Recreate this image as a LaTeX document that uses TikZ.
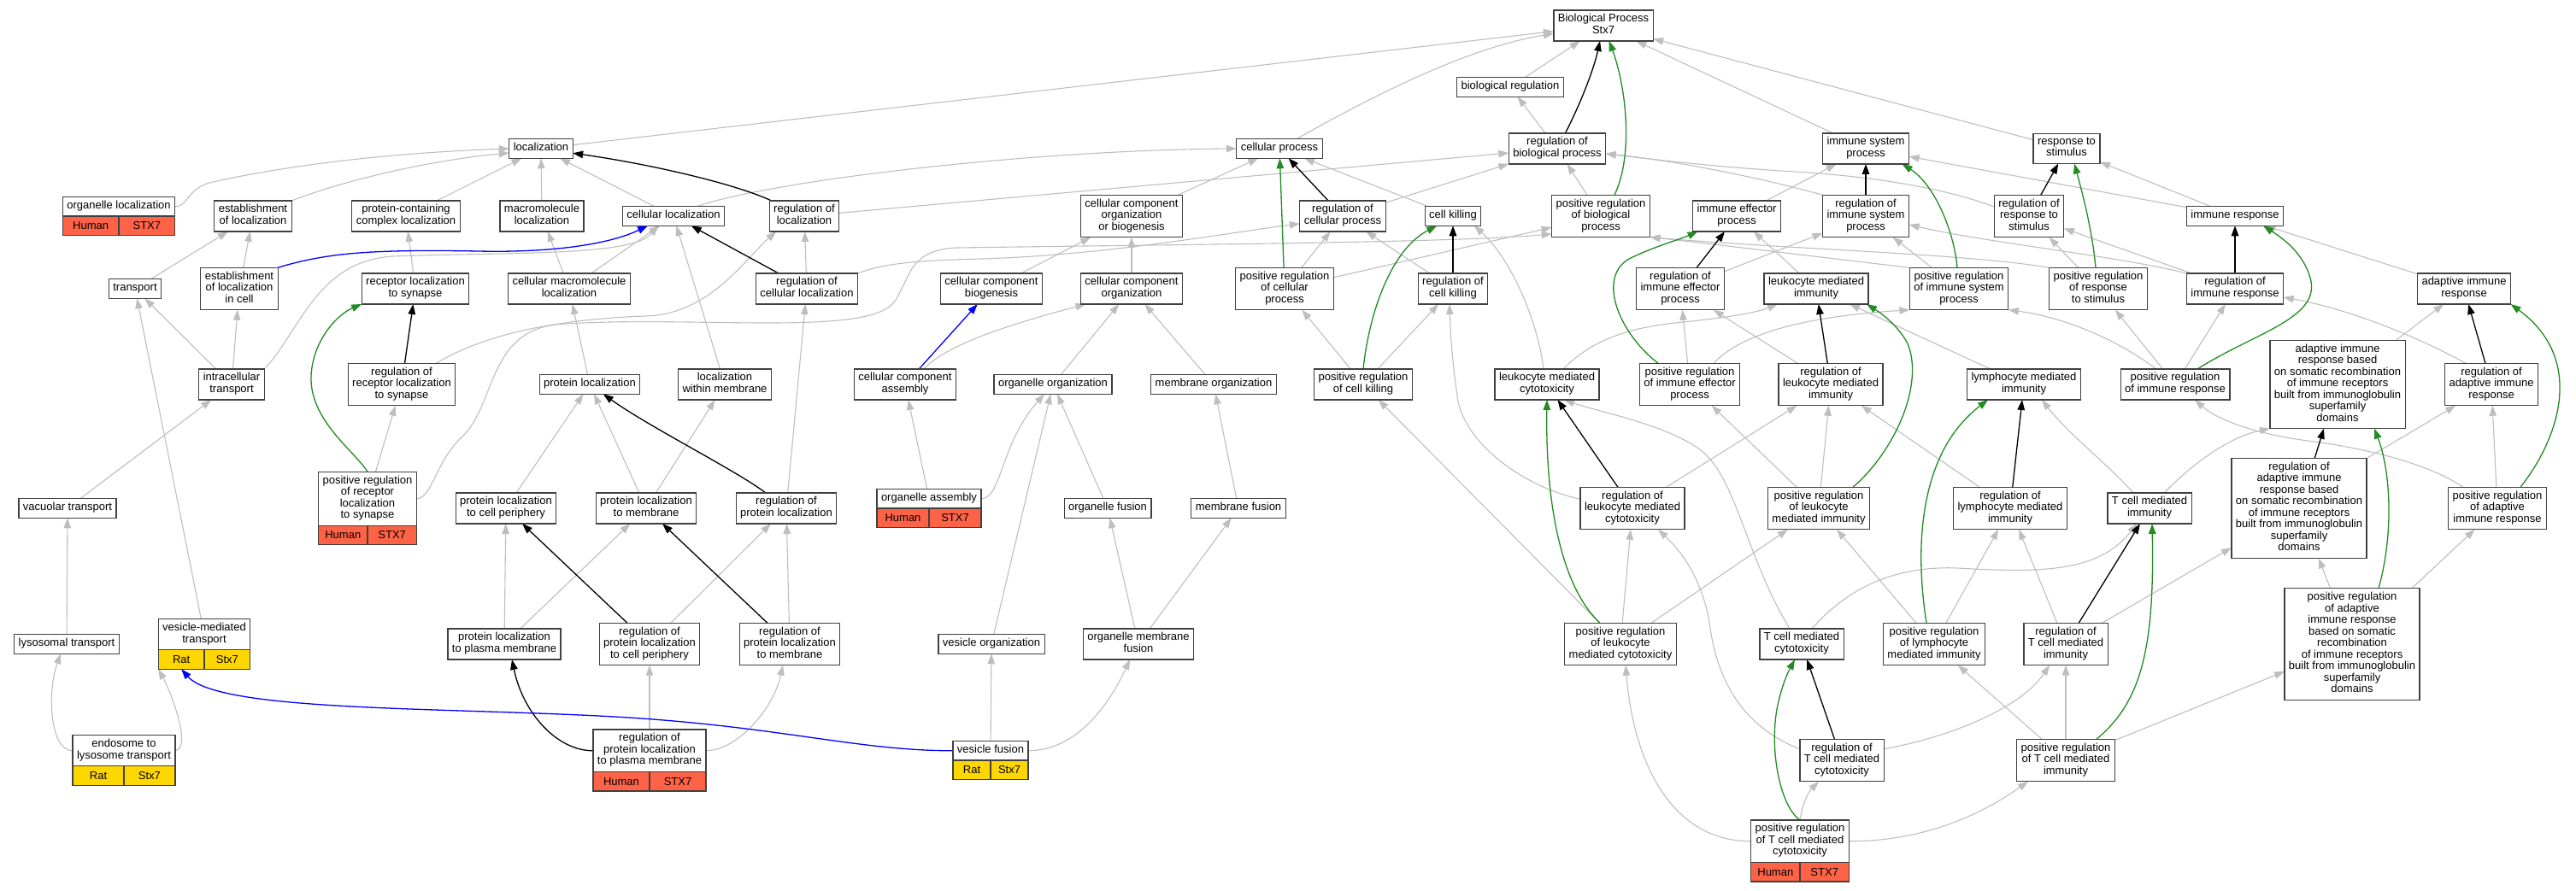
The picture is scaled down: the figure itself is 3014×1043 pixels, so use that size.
\documentclass[tikz,border=0pt]{standalone}
\usepackage{fontspec}
\setmainfont{Liberation Sans}
\usetikzlibrary{arrows.meta,calc,backgrounds}
\definecolor{isagray}{RGB}{190,190,190}
\definecolor{posgreen}{RGB}{34,139,34}
\definecolor{humanred}{RGB}{255,99,71}
\definecolor{ratgold}{RGB}{255,215,0}
\definecolor{boxline}{RGB}{64,64,64}
\begin{document}
\begin{tikzpicture}[x=1pt,y=-1pt,
  term/.style={draw=boxline,line width=1.2pt,fill=white,align=center,inner xsep=5pt,inner ysep=4.5pt,outer sep=0pt,
    font=\fontsize{13}{13.5}\selectfont,execute at begin node=\strut,execute at end node=\strut},
  human/.style={draw=boxline,line width=1.2pt,fill=humanred,inner sep=0pt,outer sep=0pt,minimum height=22.5pt,
    font=\fontsize{13}{13.5}\selectfont},
  rat/.style={human,fill=ratgold},
  isa/.style={draw=isagray,line width=1.1pt,-{Triangle[length=12pt,width=8.5pt]}},
  reg/.style={isa,draw=black,line width=1.3pt},
  posreg/.style={isa,draw=posgreen,line width=1.3pt},
  partof/.style={isa,draw=blue,line width=1.3pt}]
\useasboundingbox (0,0) rectangle (3014,1043);

\node[term] (bp) at (1876,30) {Biological Process\\Stx7};
\node[term] (bioreg) at (1767,102) {biological regulation};

\node[term] (loc) at (633,174) {localization};
\node[term] (cellproc) at (1497,174) {cellular process};
\node[term] (regbio) at (1822,174) {regulation of\\biological process};
\node[term] (immsys) at (2183,174) {immune system\\process};
\node[term] (resp) at (2418,174) {response to\\stimulus};

\node[term] (orgloc) at (139,241.75) {organelle localization};
\path let \p1=($(orgloc.east)-(orgloc.west)$) in
  node[human,minimum width=0.5*\x1,anchor=north east] (orgloc-sp) at (orgloc.south) {Human}
  node[human,minimum width=0.5*\x1,anchor=north west] (orgloc-gn) at (orgloc.south) {STX7};
\node[term] (estloc) at (296,253) {establishment\\of localization};
\node[term] (pcloc) at (475,253) {protein-containing\\complex localization};
\node[term] (macloc) at (634,253) {macromolecule\\localization};
\node[term] (cellloc) at (788,253) {cellular localization};
\node[term] (regloc) at (941,253) {regulation of\\localization};
\node[term] (ccob) at (1324,253) {cellular component\\organization\\or biogenesis};
\node[term] (regcp) at (1571,253) {regulation of\\cellular process};
\node[term] (killing) at (1700,253) {cell killing};
\node[term] (posbio) at (1873,253) {positive regulation\\of biological\\process};
\node[term] (immeff) at (2032,253) {immune effector\\process};
\node[term] (regimmsys) at (2183,253) {regulation of\\immune system\\process};
\node[term] (regresp) at (2374,253) {regulation of\\response to\\stimulus};
\node[term] (immresp) at (2615,253) {immune response};

\node[term] (transport) at (158,338) {transport};
\node[term] (estcell) at (280,338) {establishment\\of localization\\in cell};
\node[term] (recsyn) at (486,338) {receptor localization\\to synapse};
\node[term] (cmacloc) at (666,338) {cellular macromolecule\\localization};
\node[term] (regcellloc) at (944,338) {regulation of\\cellular localization};
\node[term] (ccbio) at (1160,338) {cellular component\\biogenesis};
\node[term] (ccorg) at (1324,338) {cellular component\\organization};
\node[term] (poscp) at (1503,338) {positive regulation\\of cellular\\process};
\node[term] (regkill) at (1700,338) {regulation of\\cell killing};
\node[term] (regimmeff) at (1966,338) {regulation of\\immune effector\\process};
\node[term] (leukimm) at (2125,338) {leukocyte mediated\\immunity};
\node[term] (posimmsys) at (2292,338) {positive regulation\\of immune system\\process};
\node[term] (posresp) at (2455,338) {positive regulation\\of response\\to stimulus};
\node[term] (regimmresp) at (2615,338) {regulation of\\immune response};
\node[term] (adapt) at (2883,338) {adaptive immune\\response};

\node[term] (intra) at (271,450) {intracellular\\transport};
\node[term] (regrecsyn) at (470,450) {regulation of\\receptor localization\\to synapse};
\node[term] (protloc) at (690,450) {protein localization};
\node[term] (locmem) at (848,450) {localization\\within membrane};
\node[term] (ccasm) at (1059,450) {cellular component\\assembly};
\node[term] (orgorg) at (1232,450) {organelle organization};
\node[term] (memorg) at (1420,450) {membrane organization};
\node[term] (poskill) at (1595,450) {positive regulation\\of cell killing};
\node[term] (leukcyto) at (1810,450) {leukocyte mediated\\cytotoxicity};
\node[term] (posimmeff) at (1977,450) {positive regulation\\of immune effector\\process};
\node[term] (regleukimm) at (2142,450) {regulation of\\leukocyte mediated\\immunity};
\node[term] (lymphimm) at (2368,450) {lymphocyte mediated\\immunity};
\node[term] (posimmresp) at (2545,450) {positive regulation\\of immune response};
\node[term] (adaptsom) at (2735,450) {adaptive immune\\response based\\on somatic recombination\\of immune receptors\\built from immunoglobulin\\superfamily\\domains};
\node[term] (regadapt) at (2915,450) {regulation of\\adaptive immune\\response};

\node[term] (vacuolar) at (79,595) {vacuolar transport};
\node[term] (posrecsyn) at (430,583.75) {positive regulation\\of receptor\\localization\\to synapse};
\path let \p1=($(posrecsyn.east)-(posrecsyn.west)$) in
  node[human,minimum width=0.5*\x1,anchor=north east] (posrecsyn-sp) at (posrecsyn.south) {Human}
  node[human,minimum width=0.5*\x1,anchor=north west] (posrecsyn-gn) at (posrecsyn.south) {STX7};
\node[term] (plcp) at (592,595) {protein localization\\to cell periphery};
\node[term] (plmem) at (756,595) {protein localization\\to membrane};
\node[term] (regprotloc) at (920,595) {regulation of\\protein localization};
\node[term] (orgasm) at (1087,583.75) {organelle assembly};
\path let \p1=($(orgasm.east)-(orgasm.west)$) in
  node[human,minimum width=0.5*\x1,anchor=north east] (orgasm-sp) at (orgasm.south) {Human}
  node[human,minimum width=0.5*\x1,anchor=north west] (orgasm-gn) at (orgasm.south) {STX7};
\node[term] (orgfus) at (1296,595) {organelle fusion};
\node[term] (memfus) at (1449,595) {membrane fusion};
\node[term] (regleukcyto) at (1910,595) {regulation of\\leukocyte mediated\\cytotoxicity};
\node[term] (posleukimm) at (2128,595) {positive regulation\\of leukocyte\\mediated immunity};
\node[term] (reglymph) at (2352,595) {regulation of\\lymphocyte mediated\\immunity};
\node[term] (tcellimm) at (2515,595) {T cell mediated\\immunity};
\node[term] (regadaptsom) at (2690,595) {regulation of\\adaptive immune\\response based\\on somatic recombination\\of immune receptors\\built from immunoglobulin\\superfamily\\domains};
\node[term] (posadapt) at (2922,595) {positive regulation\\of adaptive\\immune response};

\node[term] (lyso) at (78,754) {lysosomal transport};
\node[term] (vesmed) at (239,742.75) {vesicle-mediated\\transport};
\path let \p1=($(vesmed.east)-(vesmed.west)$) in
  node[rat,minimum width=0.5*\x1,anchor=north east] (vesmed-sp) at (vesmed.south) {Rat}
  node[rat,minimum width=0.5*\x1,anchor=north west] (vesmed-gn) at (vesmed.south) {Stx7};
\node[term] (plpm) at (590,754) {protein localization\\to plasma membrane};
\node[term] (regplcp) at (760,754) {regulation of\\protein localization\\to cell periphery};
\node[term] (regplmem) at (924,754) {regulation of\\protein localization\\to membrane};
\node[term] (vesorg) at (1160,754) {vesicle organization};
\node[term] (orgmemfus) at (1332,754) {organelle membrane\\fusion};
\node[term] (posleukcyto) at (1896,754) {positive regulation\\of leukocyte\\mediated cytotoxicity};
\node[term] (tcellcyto) at (2108,754) {T cell mediated\\cytotoxicity};
\node[term] (poslymph) at (2263,754) {positive regulation\\of lymphocyte\\mediated immunity};
\node[term] (regtcellimm) at (2417,754) {regulation of\\T cell mediated\\immunity};
\node[term] (posadaptsom) at (2752,754) {positive regulation\\of adaptive\\immune response\\based on somatic\\recombination\\of immune receptors\\built from immunoglobulin\\superfamily\\domains};

\node[term] (endo) at (145,878.75) {endosome to\\lysosome transport};
\path let \p1=($(endo.east)-(endo.west)$) in
  node[rat,minimum width=0.5*\x1,anchor=north east] (endo-sp) at (endo.south) {Rat}
  node[rat,minimum width=0.5*\x1,anchor=north west] (endo-gn) at (endo.south) {Stx7};
\node[term] (regplpm) at (760,878.75) {regulation of\\protein localization\\to plasma membrane};
\path let \p1=($(regplpm.east)-(regplpm.west)$) in
  node[human,minimum width=0.5*\x1,anchor=north east] (regplpm-sp) at (regplpm.south) {Human}
  node[human,minimum width=0.5*\x1,anchor=north west] (regplpm-gn) at (regplpm.south) {STX7};
\node[term] (vesfus) at (1159,878.75) {vesicle fusion};
\path let \p1=($(vesfus.east)-(vesfus.west)$) in
  node[rat,minimum width=0.5*\x1,anchor=north east] (vesfus-sp) at (vesfus.south) {Rat}
  node[rat,minimum width=0.5*\x1,anchor=north west] (vesfus-gn) at (vesfus.south) {Stx7};
\node[term] (regtcellcyto) at (2155,890) {regulation of\\T cell mediated\\cytotoxicity};
\node[term] (postcellimm) at (2417,890) {positive regulation\\of T cell mediated\\immunity};

\node[term] (postcellcyto) at (2106,984.75) {positive regulation\\of T cell mediated\\cytotoxicity};
\path let \p1=($(postcellcyto.east)-(postcellcyto.west)$) in
  node[human,minimum width=0.5*\x1,anchor=north east] (postcellcyto-sp) at (postcellcyto.south) {Human}
  node[human,minimum width=0.5*\x1,anchor=north west] (postcellcyto-gn) at (postcellcyto.south) {STX7};

\begin{scope}[on background layer]
\draw[isa] (loc) -- (bp);
\draw[isa] (bioreg) -- (bp);
\draw[isa] (immsys) -- (bp);
\draw[isa] (resp) -- (bp);
\draw[isa] (cellproc) .. controls (1610,110) and (1720,55) .. (bp);
\draw[isa] (regbio) -- (bioreg);
\draw[isa] (orgloc.east) .. controls (220,242) and (218,222) .. (245,214) .. controls (350,190) and (480,178) .. (loc.west);
\draw[isa] (estloc.north east) .. controls (400,212) and (500,188) .. ([yshift=-5pt]loc.west);
\draw[isa] (pcloc) -- (loc);
\draw[isa] (macloc) -- (loc);
\draw[isa] (cellloc) -- (loc);
\draw[isa] ([xshift=27pt]cellloc.north) .. controls (900,212) and (1200,176) .. (cellproc.west);
\draw[isa] (transport) -- (estloc);
\draw[isa] (estcell) -- (estloc);
\draw[isa] (recsyn) -- (pcloc);
\draw[isa] (intra) -- (transport);
\draw[isa] (intra) -- (estcell);
\draw[isa] (intra.north east) .. controls (350,390) and (370,305) .. (460,300) .. controls (600,295) and (740,300) .. ([xshift=-18pt]cellloc.south);
\draw[isa] (vesmed) -- (transport);
\draw[isa] (vacuolar) -- (intra);
\draw[isa] (lyso) -- (vacuolar);
\draw[isa] (endo.west) .. controls (58,879) and (55,810) .. ([xshift=-7pt]lyso.south);
\draw[isa] (endo.east) .. controls (225,876) and (200,810) .. (vesmed-sp.south west);
\draw[isa] (cmacloc) -- (macloc);
\draw[isa] (cmacloc) -- (cellloc);
\draw[isa] (locmem) -- (cellloc);
\draw[isa] (protloc) -- (cmacloc);
\draw[isa] (regcellloc) -- (regloc);
\draw[isa] (regprotloc) -- (regcellloc);
\draw[isa] (plcp) -- (protloc);
\draw[isa] (plmem) -- (protloc);
\draw[isa] (plmem) -- (locmem);
\draw[isa] (plpm) -- (plcp);
\draw[isa] (plpm) -- (plmem);
\draw[isa] (regplcp) -- (regprotloc);
\draw[isa] (regplmem) -- (regprotloc);
\draw[isa] (regplpm) -- (regplcp);
\draw[isa] (regplpm.east) .. controls (862,879) and (905,830) .. ([xshift=-8pt]regplmem.south);
\draw[isa] (posrecsyn) -- (regrecsyn);
\draw[isa] (regrecsyn) .. controls (560,395) and (640,374) .. (755,370) .. controls (830,368) and (870,305) .. ([xshift=8pt]regloc.south west);
\draw[isa] (posrecsyn.east) .. controls (505,584) and (510,540) .. (540,512) .. controls (580,475) and (570,390) .. (650,380) .. controls (800,368) and (1010,395) .. (1045,355) .. controls (1065,330) and (1060,292) .. (1120,290) .. controls (1400,286) and (1700,284) .. (posbio.200);
\draw[isa] (regcellloc.north east) .. controls (1030,310) and (1060,305) .. (1150,303) .. controls (1300,298) and (1440,272) .. (regcp.190);
\draw[isa] (ccbio) -- (ccob);
\draw[isa] (ccorg) -- (ccob);
\draw[isa] (ccob) -- (cellproc);
\draw[isa] ([xshift=22pt]ccasm.north) .. controls (1110,400) and (1200,375) .. ([xshift=6pt]ccorg.south west);
\draw[isa] (orgorg) -- (ccorg);
\draw[isa] (memorg) -- (ccorg);
\draw[isa] (orgasm) -- (ccasm);
\draw[isa] (orgasm.east) .. controls (1172,584) and (1170,520) .. ([xshift=-10pt]orgorg.south);
\draw[isa] (vesorg) -- (orgorg);
\draw[isa] (orgfus) -- (orgorg);
\draw[isa] (memfus) -- (memorg);
\draw[isa] (orgmemfus) -- (orgfus);
\draw[isa] (orgmemfus) -- (memfus);
\draw[isa] (vesfus) -- (vesorg);
\draw[isa] (vesfus.east) .. controls (1262,879) and (1300,820) .. ([xshift=-10pt]orgmemfus.south);

\draw[isa] (regloc) -- (regbio);
\draw[isa] (regcp) -- (regbio);
\draw[isa] (posbio) -- (regbio);
\draw[isa] (regimmsys.north west) .. controls (2060,208) and (1960,188) .. ([yshift=-6pt]regbio.east);
\draw[isa] (regresp.165) .. controls (2280,222) and (2200,207) .. (2100,201) .. controls (2000,195) and (1930,186) .. ([yshift=-6pt]regbio.east);
\draw[isa] (poscp) -- (posbio);
\draw[isa] (posimmsys.north west) .. controls (2120,300) and (2000,285) .. (posbio.south east);
\draw[isa] (posresp.north west) .. controls (2300,297) and (2100,292) .. (posbio.south east);
\draw[isa] (poscp) -- (regcp);
\draw[isa] (regkill) -- (regcp);
\draw[isa] (killing) -- (cellproc);
\draw[isa] (poskill) -- (poscp);
\draw[isa] (poskill) -- (regkill);
\draw[isa] ([xshift=-4pt]leukcyto.north) .. controls (1800,380) and (1770,305) .. ([xshift=-8pt]killing.south east);
\draw[isa] (regleukcyto.170) .. controls (1790,572) and (1718,525) .. (1706,470) .. controls (1700,430) and (1697,395) .. ([xshift=-4pt]regkill.south);
\draw[isa] ([xshift=-14pt]tcellcyto.north) .. controls (2042,650) and (2032,560) .. (1990,527) .. controls (1950,497) and (1870,482) .. ([xshift=20pt]leukcyto.south);
\draw[isa] ([xshift=19pt]leukcyto.north) .. controls (1862,398) and (1905,384) .. (1960,378) .. controls (2020,372) and (2055,366) .. ([xshift=16pt]leukimm.south west);
\draw[isa] (regimmeff) -- (regimmsys);
\draw[isa] (posimmsys) -- (regimmsys);
\draw[isa] (immeff) -- (immsys);
\draw[isa] (leukimm) -- (immeff);
\draw[isa] (immresp) -- (immsys);
\draw[isa] (immresp) -- (resp);
\draw[isa] (posresp) -- (regresp);
\draw[isa] (regimmresp) -- (regresp);
\draw[isa] (regimmresp.north west) .. controls (2480,300) and (2330,285) .. ([yshift=-10pt]regimmsys.east);
\draw[isa] (posimmresp) -- (regimmresp);
\draw[isa] (posimmresp) -- (posresp);
\draw[isa] ([xshift=-22pt]posimmresp.north) .. controls (2480,400) and (2420,372) .. (posimmsys.south east);
\draw[isa] (adapt) -- (immresp);
\draw[isa] (adaptsom) -- (adapt);
\draw[isa] ([xshift=-30pt]regadapt.north) .. controls (2830,395) and (2750,362) .. (regimmresp.350);
\draw[isa] ([xshift=17pt]tcellimm.north) .. controls (2560,548) and (2605,512) .. (adaptsom.south west);
\draw[isa] (posadapt) -- (regadapt);
\draw[isa] ([xshift=-40pt]posadapt.north) .. controls (2840,542) and (2765,524) .. (2700,516) .. controls (2640,508) and (2595,492) .. ([xshift=23pt]posimmresp.south);
\draw[isa] (regadaptsom.north east) -- (regadapt);
\draw[isa] (posadaptsom) -- (regadaptsom);
\draw[isa] (posadaptsom) -- (posadapt);
\draw[isa] ([xshift=28pt]posimmeff.north) .. controls (2040,388) and (2120,370) .. (posimmsys.south west);
\draw[isa] (posimmeff) -- (regimmeff);
\draw[isa] (regleukimm) -- (regimmeff);
\draw[isa] (lymphimm) -- (leukimm);
\draw[isa] (regleukcyto) -- (regleukimm);
\draw[isa] (posleukimm) -- (regleukimm);
\draw[isa] (posleukimm) -- (posimmeff);
\draw[isa] (reglymph) -- (regleukimm);
\draw[isa] (posleukcyto) -- (regleukcyto);
\draw[isa] (posleukcyto) -- (posleukimm);
\draw[isa] (posleukcyto) -- (poskill);
\draw[isa] (poslymph) -- (reglymph);
\draw[isa] (poslymph) -- (posleukimm);
\draw[isa] ([xshift=-19pt]tcellimm.north) .. controls (2468,545) and (2420,508) .. ([xshift=21pt]lymphimm.south);
\draw[isa] ([xshift=12pt]tcellcyto.north) .. controls (2160,690) and (2215,662) .. (2290,665) .. controls (2380,670) and (2455,672) .. ([xshift=-15pt]tcellimm.south);
\draw[isa] (regtcellimm) -- (reglymph);
\draw[isa] (regtcellimm) -- (regadaptsom);
\draw[isa] (regtcellcyto.165) .. controls (2042,852) and (2010,800) .. (2001,735) .. controls (1994,685) and (1972,650) .. ([xshift=30pt]regleukcyto.south);
\draw[isa] (regtcellcyto.15) .. controls (2285,862) and (2365,828) .. ([xshift=-19pt]regtcellimm.south);
\draw[isa] (postcellimm) -- (regtcellimm);
\draw[isa] (postcellimm) -- (poslymph);
\draw[isa] (postcellimm) -- (posadaptsom);
\draw[isa] (postcellcyto.north) .. controls (2110,935) and (2118,925) .. ([xshift=-27pt]regtcellcyto.south);
\draw[isa] (postcellcyto.west) .. controls (1960,985) and (1912,900) .. ([xshift=6pt]posleukcyto.south);
\draw[isa] (postcellcyto.east) .. controls (2262,985) and (2330,945) .. ([xshift=-44pt]postcellimm.south);

\draw[reg] (regbio) .. controls (1850,120) and (1865,80) .. (bp);
\draw[reg] (regloc) .. controls (860,215) and (760,192) .. (loc);
\draw[reg] (regcellloc) -- (cellloc);
\draw[reg] (regrecsyn) -- (recsyn);
\draw[reg] (regprotloc) .. controls (860,550) and (760,500) .. (protloc);
\draw[reg] (regplcp) -- (plcp);
\draw[reg] (regplmem) -- (plmem);
\draw[reg] (regplpm.west) .. controls (652,879) and (612,835) .. ([xshift=9pt]plpm.south);
\draw[reg] (regcp) -- (cellproc);
\draw[reg] (regkill) -- (killing);
\draw[reg] (regimmsys) -- (immsys);
\draw[reg] (regresp) -- (resp);
\draw[reg] (regimmeff) -- (immeff);
\draw[reg] (regleukimm) -- (leukimm);
\draw[reg] (regimmresp) -- (immresp);
\draw[reg] (regadapt) -- (adapt);
\draw[reg] (regleukcyto) -- (leukcyto);
\draw[reg] (regadaptsom) -- (adaptsom);
\draw[reg] (reglymph) -- (lymphimm);
\draw[reg] (regtcellimm) -- (tcellimm);
\draw[reg] (regtcellcyto) -- (tcellcyto);

\draw[posreg] ([xshift=16pt]posbio.north) .. controls (1912,180) and (1902,100) .. (bp);
\draw[posreg] (posrecsyn.north) .. controls (415,528) and (362,492) .. (364,440) .. controls (366,398) and (395,368) .. (recsyn.south west);
\draw[posreg] (poscp) -- (cellproc);
\draw[posreg] (poskill.north) .. controls (1602,365) and (1628,292) .. ([xshift=14pt]killing.south west);
\draw[posreg] ([xshift=-2pt]posimmsys.north) .. controls (2286,268) and (2262,215) .. ([xshift=-8pt]immsys.south east);
\draw[posreg] ([xshift=-3pt]posresp.north) .. controls (2448,270) and (2437,228) .. ([xshift=9pt]resp.south);
\draw[posreg] ([xshift=-37pt]posimmeff.north) .. controls (1892,388) and (1868,322) .. (1908,302) .. controls (1940,287) and (1966,280) .. ([xshift=6pt]immeff.south west);
\draw[posreg] ([xshift=40pt]posleukimm.north) .. controls (2215,530) and (2252,452) .. (2232,402) .. controls (2220,380) and (2200,366) .. ([xshift=-2pt]leukimm.south east);
\draw[posreg] ([xshift=26pt]posimmresp.north) .. controls (2640,388) and (2720,372) .. (2702,322) .. controls (2692,292) and (2666,276) .. ([xshift=33pt]immresp.south);
\draw[posreg] ([xshift=27pt]posadapt.north) .. controls (2995,512) and (3025,420) .. (adapt.south east);
\draw[posreg] ([xshift=-24pt]posleukcyto.north) .. controls (1830,690) and (1808,600) .. (leukcyto.south);
\draw[posreg] ([xshift=31pt]posadaptsom.north) .. controls (2802,620) and (2796,548) .. ([xshift=43pt]adaptsom.south);
\draw[posreg] ([xshift=-9pt]poslymph.north) .. controls (2240,640) and (2245,530) .. ([xshift=-42pt]lymphimm.south);
\draw[posreg] ([xshift=36pt]postcellimm.north) .. controls (2505,822) and (2521,760) .. ([xshift=3pt]tcellimm.south);
\draw[posreg] (postcellcyto.north) .. controls (2084,945) and (2070,882) .. (2079,830) .. controls (2085,800) and (2093,785) .. ([xshift=-8pt]tcellcyto.south);

\draw[partof] (estcell.north east) .. controls (385,295) and (440,292) .. (560,294) .. controls (650,296) and (715,285) .. ([xshift=-30pt]cellloc.south);
\draw[partof] (ccasm) -- (ccbio);
\draw[partof] (vesfus.west) .. controls (1000,879) and (905,848) .. (700,838) .. controls (500,828) and (255,832) .. (vesmed-sp.south);
\end{scope}
\end{tikzpicture}
\end{document}
